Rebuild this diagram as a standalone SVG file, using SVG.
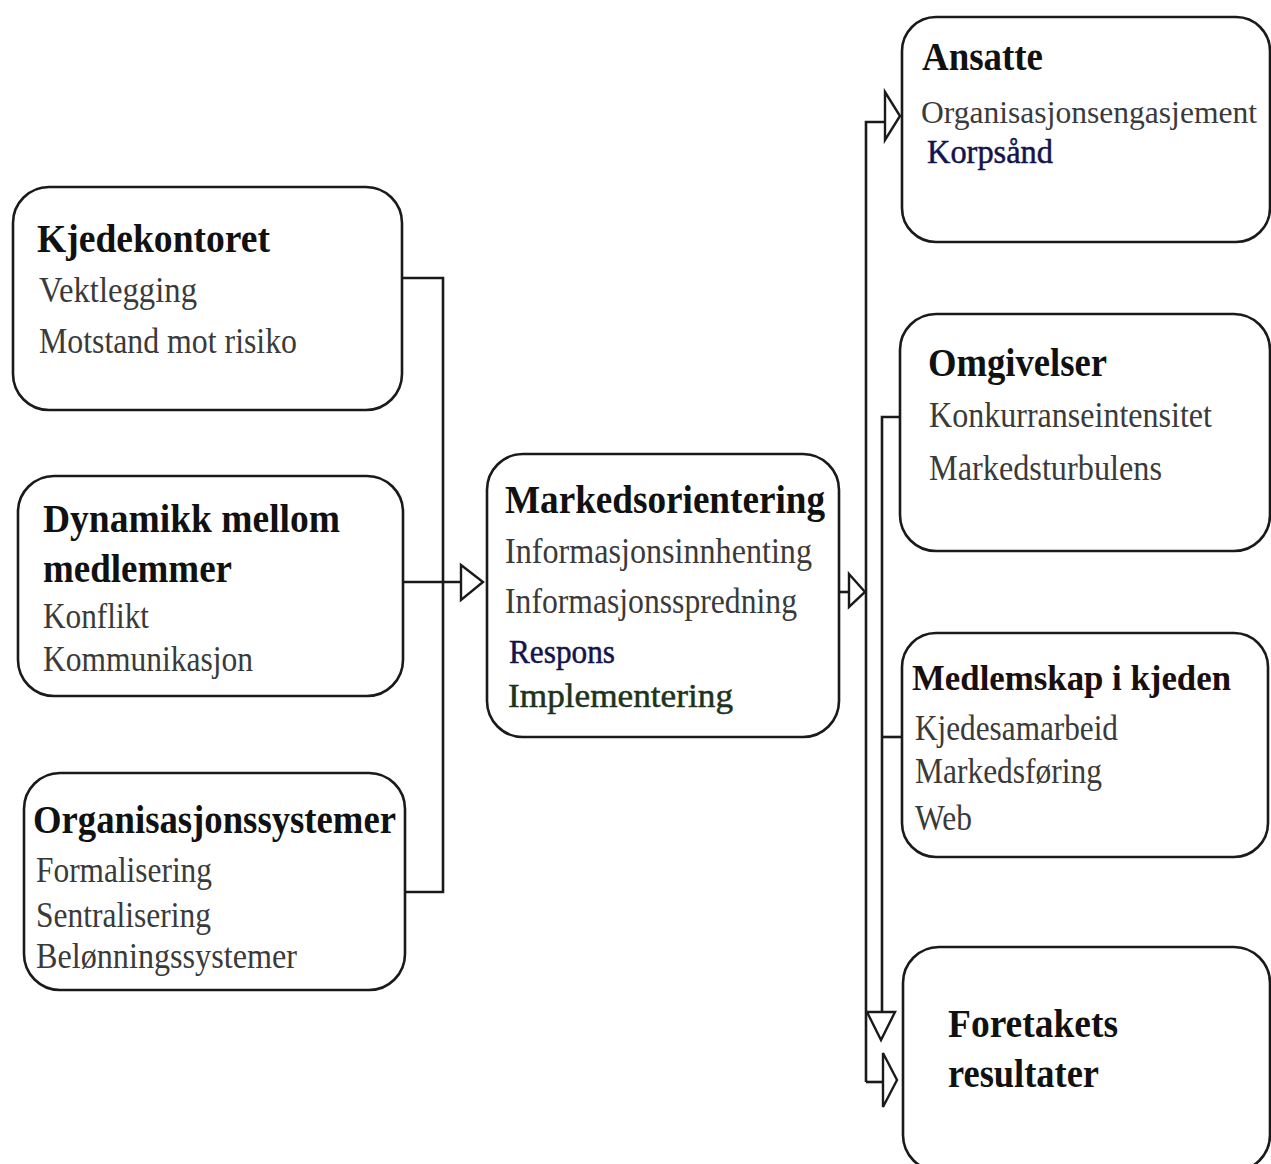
<svg xmlns="http://www.w3.org/2000/svg" width="1271" height="1164" viewBox="0 0 1271 1164">
<defs>
<style>
.box{fill:#fff;stroke:#1a1a1a;stroke-width:2.6}
.ln{fill:none;stroke:#1a1a1a;stroke-width:2.6}
.tri{fill:#fff;stroke:#1a1a1a;stroke-width:2.4;stroke-linejoin:miter}
.t{font-family:"Liberation Serif","Times New Roman",serif;font-weight:bold;font-size:40px;fill:#111}
.r{font-family:"Liberation Serif","Times New Roman",serif;font-size:35px;fill:#3a3a3a}
.nv{font-family:"Liberation Serif","Times New Roman",serif;font-size:34px;fill:#14144a;stroke:#14144a;stroke-width:0.5}
.gr{font-family:"Liberation Serif","Times New Roman",serif;font-size:34px;fill:#1c331c;stroke:#1c331c;stroke-width:0.5}
</style>
</defs>
<rect width="1271" height="1164" fill="#fff"/>

<g id="connectors">
<path class="ln" d="M402,278 H443 V892 H405"/>
<path class="ln" d="M403,582 H461"/>
<polygon class="tri" points="461,565 483,582 461,600"/>
<path class="ln" d="M839,592 H849"/>
<polygon class="tri" points="849,574 865,592 849,607"/>
<path class="ln" d="M866,1082 V122 H885"/>
<polygon class="tri" points="885,92 900,116 885,140"/>
<path class="ln" d="M866,1082 H883"/>
<polygon class="tri" points="883,1053 897,1080 883,1107"/>
<path class="ln" d="M900,417 H882 V1012"/>
<path class="ln" d="M902,737 H882"/>
<polygon class="tri" points="867,1012 895,1012 881,1040"/>
</g>

<g id="kjedekontoret">
<rect class="box" x="13" y="187" width="389" height="223" rx="36"/>
<text class="t" x="37" y="252" textLength="233" lengthAdjust="spacingAndGlyphs">Kjedekontoret</text>
<text class="r" x="39" y="302" textLength="158" lengthAdjust="spacingAndGlyphs">Vektlegging</text>
<text class="r" x="39" y="353" textLength="258" lengthAdjust="spacingAndGlyphs">Motstand mot risiko</text>
</g>

<g id="dynamikk">
<rect class="box" x="18" y="476" width="385" height="220" rx="36"/>
<text class="t" x="43" y="532" textLength="297" lengthAdjust="spacingAndGlyphs">Dynamikk mellom</text>
<text class="t" x="43" y="582" textLength="189" lengthAdjust="spacingAndGlyphs">medlemmer</text>
<text class="r" x="43" y="628" textLength="106" lengthAdjust="spacingAndGlyphs">Konflikt</text>
<text class="r" x="43" y="671" textLength="210" lengthAdjust="spacingAndGlyphs">Kommunikasjon</text>
</g>

<g id="organisasjonssystemer">
<rect class="box" x="24" y="773" width="381" height="217" rx="36"/>
<text class="t" x="33" y="833" textLength="363" lengthAdjust="spacingAndGlyphs">Organisasjonssystemer</text>
<text class="r" x="36" y="882" textLength="176" lengthAdjust="spacingAndGlyphs">Formalisering</text>
<text class="r" x="36" y="927" textLength="175" lengthAdjust="spacingAndGlyphs">Sentralisering</text>
<text class="r" x="36" y="968" textLength="261" lengthAdjust="spacingAndGlyphs">Belønningssystemer</text>
</g>

<g id="markedsorientering">
<rect class="box" x="487" y="454" width="352" height="283" rx="36"/>
<text class="t" x="505" y="513" textLength="320" lengthAdjust="spacingAndGlyphs">Markedsorientering</text>
<text class="r" x="505" y="563" textLength="307" lengthAdjust="spacingAndGlyphs">Informasjonsinnhenting</text>
<text class="r" x="505" y="613" textLength="292" lengthAdjust="spacingAndGlyphs">Informasjonsspredning</text>
<text class="nv" x="509" y="663" textLength="106" lengthAdjust="spacingAndGlyphs">Respons</text>
<text class="gr" x="508" y="707" textLength="225" lengthAdjust="spacingAndGlyphs">Implementering</text>
</g>

<g id="ansatte">
<rect class="box" x="902" y="17" width="368" height="225" rx="34"/>
<text class="t" x="922" y="70" textLength="121" lengthAdjust="spacingAndGlyphs">Ansatte</text>
<text class="r" x="921" y="123" style="font-size:31.5px" textLength="336" lengthAdjust="spacingAndGlyphs">Organisasjonsengasjement</text>
<text class="nv" x="927" y="163" textLength="126" lengthAdjust="spacingAndGlyphs">Korpsånd</text>
</g>

<g id="omgivelser">
<rect class="box" x="900" y="314" width="370" height="237" rx="36"/>
<text class="t" x="928" y="376" textLength="179" lengthAdjust="spacingAndGlyphs">Omgivelser</text>
<text class="r" x="929" y="427" textLength="283" lengthAdjust="spacingAndGlyphs">Konkurranseintensitet</text>
<text class="r" x="929" y="480" textLength="233" lengthAdjust="spacingAndGlyphs">Markedsturbulens</text>
</g>

<g id="medlemskap">
<rect class="box" x="902" y="633" width="366" height="224" rx="34"/>
<text class="t" x="912" y="690" style="font-size:35px;fill:#1a0e0e" textLength="319" lengthAdjust="spacingAndGlyphs">Medlemskap i kjeden</text>
<text class="r" x="915" y="740" textLength="203" lengthAdjust="spacingAndGlyphs">Kjedesamarbeid</text>
<text class="r" x="915" y="783" textLength="187" lengthAdjust="spacingAndGlyphs">Markedsføring</text>
<text class="r" x="915" y="830" textLength="57" lengthAdjust="spacingAndGlyphs">Web</text>
</g>

<g id="foretakets">
<rect class="box" x="903" y="947" width="367" height="224" rx="36"/>
<text class="t" x="948" y="1037" textLength="170" lengthAdjust="spacingAndGlyphs">Foretakets</text>
<text class="t" x="948" y="1087" textLength="151" lengthAdjust="spacingAndGlyphs">resultater</text>
</g>
</svg>
